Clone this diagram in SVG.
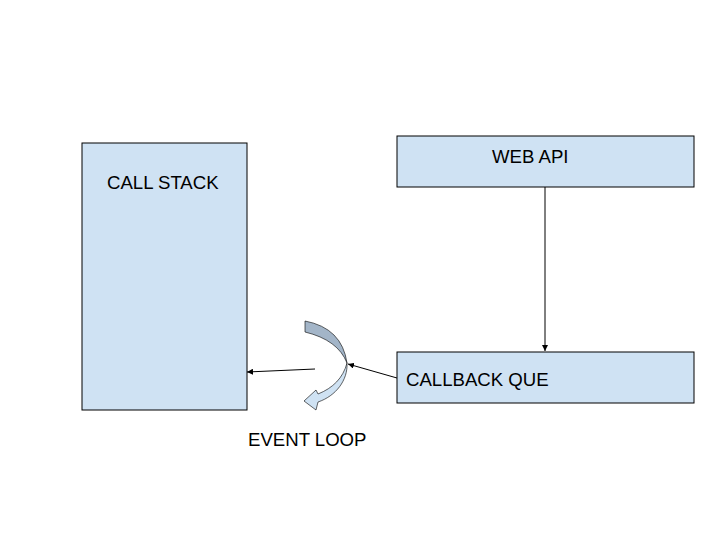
<svg xmlns="http://www.w3.org/2000/svg" width="720" height="540" viewBox="0 0 720 540">
<style>
.box{fill:#cfe2f3;stroke:#000;stroke-width:1}
.lbl{font-family:"Liberation Sans",Arial,sans-serif;font-size:18.6px;fill:#000}
.con{stroke:#000;stroke-width:1;fill:none}
</style>
<defs>
<marker id="ah" viewBox="0 0 10 10" refX="10" refY="5" markerWidth="6" markerHeight="6" markerUnits="userSpaceOnUse" orient="auto">
<path d="M0,0 L10,5 L0,10 Z" fill="#000"/>
</marker>
</defs>
<rect width="720" height="540" fill="#fff"/>
<g id="call-stack">
<rect class="box" x="82" y="143" width="165" height="267"/>
<text class="lbl" x="107" y="188.5">CALL STACK</text>
</g>
<g id="web-api">
<rect class="box" x="397" y="136" width="297" height="51"/>
<text class="lbl" x="492" y="163">WEB API</text>
</g>
<g id="callback-que">
<rect class="box" x="397" y="352" width="297" height="51"/>
<text class="lbl" x="406" y="386">CALLBACK QUE</text>
</g>
<g id="event-loop">
<path d="M305,321 Q342,328 347,363 Q338,340 305,332 Z" fill="#a3b5c8" stroke="#000" stroke-width="0.6"/>
<path d="M347,363 C348,380 336,396 318,402 L316,410 L304,401 L316,390 L318,394 C333,388 343,378 347,363 Z" fill="#cfe2f3" stroke="#000" stroke-width="0.6"/>
<text class="lbl" x="248" y="446">EVENT LOOP</text>
</g>
<g id="connectors">
<line class="con" x1="545" y1="187" x2="545" y2="351" marker-end="url(#ah)"/>
<line class="con" x1="397" y1="378" x2="348" y2="364" marker-end="url(#ah)"/>
<line class="con" x1="315" y1="369" x2="247" y2="372" marker-end="url(#ah)"/>
</g>
</svg>
